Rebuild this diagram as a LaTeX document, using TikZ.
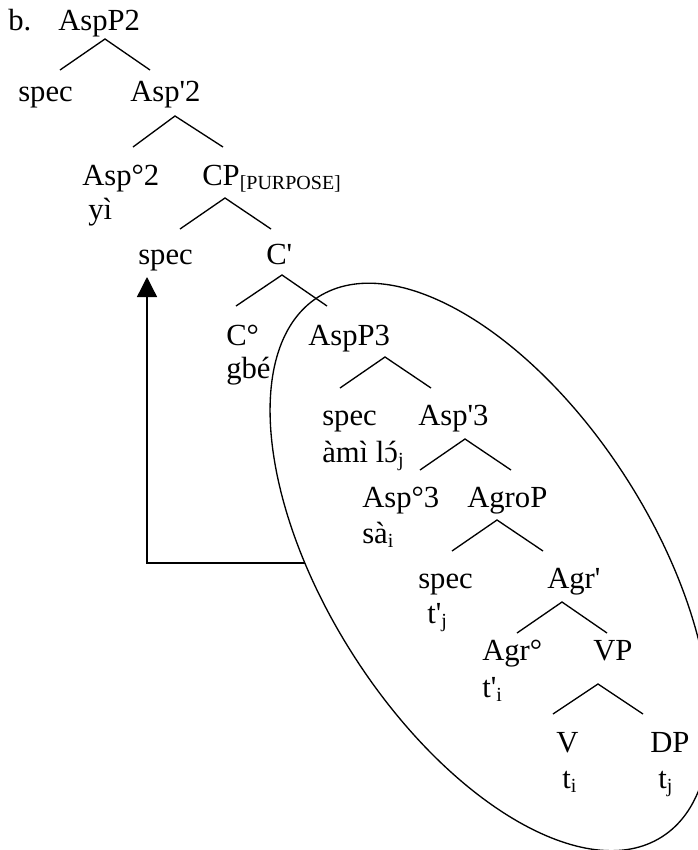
\documentclass[tikz,border=0pt]{standalone}
\usepackage{fontspec}
\setmainfont{Liberation Serif}
\usetikzlibrary{arrows.meta,calc}
% subscript index in the smaller size
\newcommand\idx[1]{\raisebox{-3.5pt}{\fontsize{15}{15}\selectfont #1}}
\newcommand\pr{\textquotesingle}
% open o with acute accent, stacked by hand
\newcommand\oacuteopen{\ooalign{ɔ\cr\hidewidth\kern0.06em ´\hidewidth\cr}}
\begin{document}
\begin{tikzpicture}[x=0.75pt,y=-0.75pt,
  lab/.style={anchor=base west,inner sep=0pt,font=\fontsize{23}{27}\selectfont},
  branch/.style={line width=1pt},
  move/.style={line width=1pt,-{Triangle[length=15pt,width=15pt]}},
  loop/.style={line width=1pt}]
\useasboundingbox (0,0) rectangle (697,850);

% labels
\node[lab] (b)     at (8,30)   {b.};
\node[lab] (asp2)  at (58,30)  {AspP2};
\node[lab] (spa)   at (18,101) {spec};
\node[lab] (aspb2) at (130,101){Asp\pr2};
\node[lab] (asph2) at (82,185) {Asp°2};
\node[lab] (yi)    at (88,219) {yì};
\node[lab] (cp)    at (202,185){CP\idx{[PURPOSE]}};
\node[lab] (spb)   at (138,264){spec};
\node[lab] (cbar)  at (266,264){C\pr};
\node[lab] (chead) at (226,345){C°};
\node[lab] (gbe)   at (226,378){gbé};
\node[lab] (asp3)  at (308,345){AspP3};
\node[lab] (spc)   at (322,425){spec};
\node[lab] (aspb3) at (418,425){Asp\pr3};
\node[lab] (amilo) at (322,462){àmì l\oacuteopen\idx{j}};
\node[lab] (asph3) at (362,507){Asp°3};
\node[lab] (agrop) at (467,507){AgroP};
\node[lab] (sa)    at (362,543){sà\idx{i}};
\node[lab] (spd)   at (418,588){spec};
\node[lab] (agrb)  at (547,588){Agr\pr};
\node[lab] (tpj)   at (427,623){t\pr\idx{j}};
\node[lab] (agrh)  at (482,660){Agr°};
\node[lab] (vp)    at (593,660){VP};
\node[lab] (tpi)   at (482,697){t\pr\idx{i}};
\node[lab] (v)     at (556,752){V};
\node[lab] (dp)    at (650,752){DP};
\node[lab] (ti)    at (562,788){t\idx{i}};
\node[lab] (tj)    at (658,788){t\idx{j}};

% branch points: apex, left foot, right foot
\coordinate (a1) at (105,39);  \coordinate (l1) at (60,70);   \coordinate (r1) at (150,70);
\coordinate (a2) at (175,116); \coordinate (l2) at (133,147); \coordinate (r2) at (223,147);
\coordinate (a3) at (225,198); \coordinate (l3) at (180,229); \coordinate (r3) at (271,229);
\coordinate (a4) at (282,275); \coordinate (l4) at (236,306); \coordinate (r4) at (327,306);
\coordinate (a5) at (385,357); \coordinate (l5) at (340,388); \coordinate (r5) at (431,388);
\coordinate (a6) at (465,439); \coordinate (l6) at (420,470); \coordinate (r6) at (511,470);
\coordinate (a7) at (497,520); \coordinate (l7) at (452,551); \coordinate (r7) at (543,551);
\coordinate (a8) at (562,602); \coordinate (l8) at (517,633); \coordinate (r8) at (607,633);
\coordinate (a9) at (598,684); \coordinate (l9) at (553,714); \coordinate (r9) at (643,714);
\foreach \i in {1,...,9}{\draw[branch] (l\i) -- (a\i) -- (r\i);}

% circled constituent
\coordinate (ec) at (490,567);
\draw[loop,rotate around={-57.5:(ec)}] (ec) ellipse [x radius=240pt,y radius=122pt];

% movement arrow to the specifier of CP
\coordinate (foot) at (305,563);
\draw[move] (foot) -| ($(spb.base west)+(9,13)$);
\end{tikzpicture}
\end{document}
